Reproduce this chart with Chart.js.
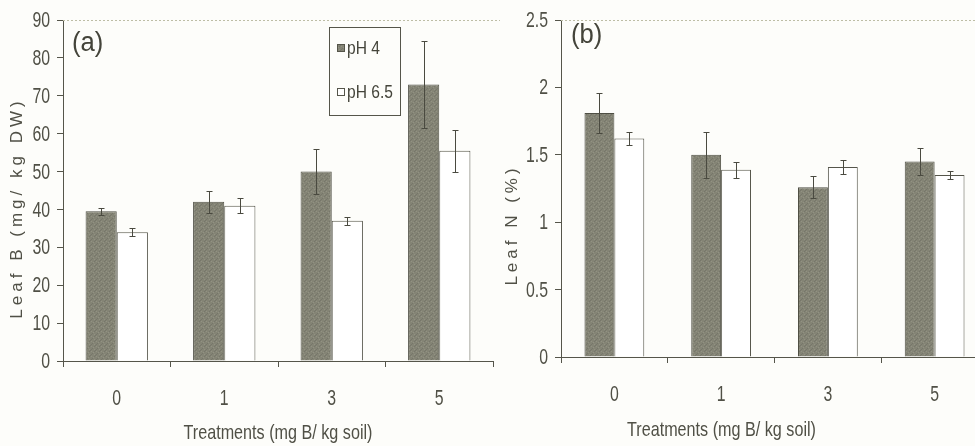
<!DOCTYPE html>
<html>
<head>
<meta charset="utf-8">
<script src="https://cdn.jsdelivr.net/npm/chart.js@4.4.0/dist/chart.umd.min.js"></script>
<style>
  html, body { margin: 0; padding: 0; background: #fdfdfa; overflow: hidden; }
  #wrap { position: relative; width: 975px; height: 446px; overflow: hidden; }
  canvas { position: absolute; top: 0; }
</style>
</head>
<body>
<div id="wrap">
  <canvas id="leafB" width="500" height="446" style="left:0"></canvas>
  <canvas id="leafN" width="500" height="446" style="left:500px"></canvas>
</div>
<script>
// Data
const treatments = ['0', '1', '3', '5'];
const seriesNames = ['pH 4', 'pH 6.5'];

// (a) Leaf B (mg/kg DW)
const leafB_pH4 = [39.5, 42, 50, 73];
const leafB_pH4_err = [1, 3, 6, 11.5];
const leafB_pH65 = [34, 41, 37, 55.5];
const leafB_pH65_err = [1, 2, 1, 5.5];
const leafB_max = 90;
const leafB_step = 10;

// (b) Leaf N (%)
const leafN_pH4 = [1.81, 1.5, 1.26, 1.45];
const leafN_pH4_err = [0.15, 0.17, 0.08, 0.1];
const leafN_pH65 = [1.62, 1.39, 1.41, 1.35];
const leafN_pH65_err = [0.05, 0.06, 0.05, 0.03];
const leafN_max = 2.5;
const leafN_step = 0.5;

const ink = '#55554a';
const textCol = '#505046';
const FONT = '"Liberation Sans", Arial, sans-serif';

// stippled grey like the scanned print
function makeStipple() {
    const c = document.createElement('canvas');
    c.width = 5; c.height = 5;
    const g = c.getContext('2d');
    g.fillStyle = '#848475';
    g.fillRect(0, 0, 5, 5);
    g.fillStyle = '#76766a';
    g.fillRect(0, 0, 1, 1); g.fillRect(2, 3, 1, 1); g.fillRect(4, 1, 1, 1); g.fillRect(1, 4, 1, 1);
    g.fillStyle = '#929283';
    g.fillRect(3, 2, 1, 1); g.fillRect(1, 1, 1, 1); g.fillRect(4, 4, 1, 1);
    return c.getContext('2d').createPattern(c, 'repeat');
}
const greyFill = makeStipple();

function narrowText(ctx, text, x, y, align, sx) {
    ctx.save();
    ctx.translate(x, y);
    ctx.scale(sx, 1);
    ctx.textAlign = align;
    ctx.fillText(text, 0, 0);
    ctx.restore();
}

// error bars drawn through the y scale
const errorBars = {
    id: 'errorBars',
    afterDatasetsDraw(chart) {
        const ctx = chart.ctx;
        const y = chart.scales.y;
        ctx.save();
        ctx.strokeStyle = '#4a4a40';
        ctx.lineWidth = 1;
        chart.data.datasets.forEach((ds, i) => {
            const meta = chart.getDatasetMeta(i);
            meta.data.forEach((bar, j) => {
                const v = ds.data[j], e = ds.errors[j];
                const top = Math.round(y.getPixelForValue(v + e)) + 0.5;
                const bot = Math.round(y.getPixelForValue(v - e)) + 0.5;
                const x = Math.round(bar.x) + 0.5;
                ctx.beginPath();
                ctx.moveTo(x, top); ctx.lineTo(x, bot);
                ctx.moveTo(x - 3, top); ctx.lineTo(x + 3, top);
                ctx.moveTo(x - 3, bot); ctx.lineTo(x + 3, bot);
                ctx.stroke();
            });
        });
        ctx.restore();
    }
};

// tick labels in the condensed face, panel letter, axis titles, top frame, legend
const decorations = {
    id: 'decorations',
    afterDraw(chart, args, opts) {
        const ctx = chart.ctx;
        const area = chart.chartArea;
        const xs = chart.scales.x, ys = chart.scales.y;
        ctx.save();

        // dotted top frame
        ctx.strokeStyle = '#bdbda5';
        ctx.setLineDash([2, 2]);
        ctx.beginPath();
        ctx.moveTo(area.left, area.top + 0.5);
        ctx.lineTo(area.right + (opts.frameExtra || 0), area.top + 0.5);
        ctx.stroke();
        ctx.setLineDash([]);

        // tick labels
        ctx.fillStyle = textCol;
        ctx.textBaseline = 'middle';
        ctx.font = '22px ' + FONT;
        ys.ticks.forEach((t, i) => {
            const label = String(+t.value.toFixed(2));
            narrowText(ctx, label, ys.right - 13, ys.getPixelForTick(i) + 1, 'right', 0.72);
        });
        xs.ticks.forEach((t, i) => {
            narrowText(ctx, xs.getLabelForValue(t.value), xs.getPixelForTick(i), opts.xTickY, 'center', 0.72);
        });

        // panel letter
        ctx.fillStyle = '#44443a';
        ctx.font = '27px ' + FONT;
        narrowText(ctx, opts.panel, opts.panelX, opts.panelY, 'left', 0.95);

        // x title
        ctx.fillStyle = textCol;
        ctx.font = '21px ' + FONT;
        narrowText(ctx, 'Treatments (mg B/ kg soil)', (area.left + area.right) / 2 + opts.xTitleShift,
            opts.xTitleY, 'center', 0.77);

        // y title
        ctx.save();
        ctx.translate(opts.yTitleX, opts.yTitleY);
        ctx.rotate(-Math.PI / 2);
        ctx.font = '17px ' + FONT;
        ctx.letterSpacing = '4px';
        ctx.textAlign = 'center';
        ctx.fillText(opts.yTitle, 0, 0);
        ctx.restore();

        if (opts.legend) {
            const L = opts.legend;
            ctx.strokeStyle = ink;
            ctx.lineWidth = 1;
            ctx.strokeRect(L.x + 0.5, L.y + 0.5, L.w, L.h);
            ctx.font = '19px ' + FONT;
            chart.data.datasets.forEach((ds, i) => {
                const cy = L.y + 21 + i * 44;
                ctx.fillStyle = ds.backgroundColor;
                ctx.fillRect(L.x + 8, cy - 4, 8, 8);
                ctx.strokeStyle = ink;
                ctx.strokeRect(L.x + 8.5, cy - 3.5, 7, 7);
                ctx.fillStyle = '#44443a';
                narrowText(ctx, ds.label, L.x + 18, cy + 1, 'left', 0.82);
            });
        }
        ctx.restore();
    }
};

function makeChart(id, a, aErr, b, bErr, max, step, cfg) {
    return new Chart(document.getElementById(id), {
        type: 'bar',
        data: {
            labels: treatments,
            datasets: [
                { label: seriesNames[0], data: a, errors: aErr, backgroundColor: greyFill,
                  borderColor: '#4f4f44', borderWidth: 1 },
                { label: seriesNames[1], data: b, errors: bErr, backgroundColor: '#ffffff',
                  borderColor: ink, borderWidth: 1 }
            ]
        },
        options: {
            responsive: false,
            animation: false,
            layout: { padding: { top: 20, right: cfg.padRight, left: 0, bottom: 0 } },
            categoryPercentage: cfg.catPct,
            barPercentage: 1.0,
            plugins: {
                legend: { display: false },
                tooltip: { enabled: false },
                decorations: cfg.deco
            },
            scales: {
                x: {
                    grid: { drawOnChartArea: false, tickLength: 6, color: ink },
                    border: { color: ink },
                    ticks: { display: false },
                    afterFit: s => { s.height = cfg.xHeight; }
                },
                y: {
                    min: 0, max: max,
                    grid: { drawOnChartArea: false, tickLength: 6, color: ink },
                    border: { color: ink },
                    ticks: { stepSize: step, display: false },
                    afterFit: s => { s.width = cfg.yWidth; }
                }
            }
        },
        plugins: [errorBars, decorations]
    });
}

makeChart('leafB', leafB_pH4, leafB_pH4_err, leafB_pH65, leafB_pH65_err, leafB_max, leafB_step, {
    padRight: 7, catPct: 0.58, xHeight: 85, yWidth: 63,
    deco: {
        panel: '(a)', panelX: 72, panelY: 44,
        xTickY: 399, xTitleShift: 0, xTitleY: 433,
        yTitle: 'Leaf B (mg/ kg DW)', yTitleX: 17, yTitleY: 208,
        frameExtra: 35,
        legend: { x: 329, y: 27, w: 71, h: 88 }
    }
});

makeChart('leafN', leafN_pH4, leafN_pH4_err, leafN_pH65, leafN_pH65_err, leafN_max, leafN_step, {
    padRight: 12, catPct: 0.56, xHeight: 89, yWidth: 61,
    deco: {
        panel: '(b)', panelX: 71, panelY: 36,
        xTickY: 395, xTitleShift: -53, xTitleY: 430,
        yTitle: 'Leaf N (%)', yTitleX: 12, yTitleY: 225,
        frameExtra: 0
    }
});
</script>
</body>
</html>
